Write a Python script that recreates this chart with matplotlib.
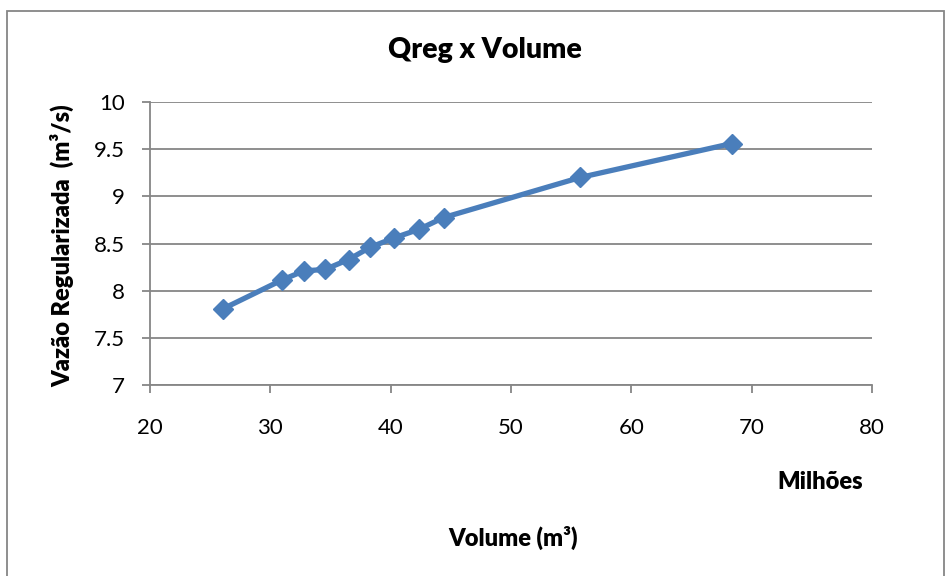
import matplotlib.pyplot as plt
from matplotlib.patches import Rectangle

# Qreg x Volume
volume = [26.1, 31.0, 32.8, 34.55, 36.5, 38.3, 40.3, 42.35, 44.4, 55.75, 68.35]
qreg = [7.81, 8.115, 8.21, 8.225, 8.33, 8.46, 8.56, 8.65, 8.775, 9.20, 9.56]
xticks = [20, 30, 40, 50, 60, 70, 80]
yticks = [7, 7.5, 8, 8.5, 9, 9.5, 10]
ytick_labels = ['7', '7.5', '8', '8.5', '9', '9.5', '10']

W, H = 949, 576
plt.rcParams['font.family'] = ['Lato', 'DejaVu Sans']
grey = '#868686'

fig = plt.figure(figsize=(W / 100, H / 100), dpi=100)
fig.patches.append(Rectangle((7 / W, -0.05), 937 / W, 1.05 - 11 / H,
                             transform=fig.transFigure, fill=False,
                             edgecolor=grey, linewidth=1.3))

ax = fig.add_axes([150 / W, 1 - 385 / H, 722 / W, 283 / H])
ax.plot(volume, qreg, color='#4A7EBB', linewidth=3.8, marker='D',
        markersize=10.5, solid_joinstyle='round', zorder=3)

ax.set_xlim(20, 80)
ax.set_ylim(7, 10)
ax.set_xticks(xticks)
ax.set_yticks(yticks)
ax.set_yticklabels(ytick_labels)
ax.grid(axis='y', color=grey, linewidth=1.3)
ax.set_axisbelow(True)
for s in ['top', 'right']:
    ax.spines[s].set_visible(False)
for s in ['left', 'bottom']:
    ax.spines[s].set_color(grey)
    ax.spines[s].set_linewidth(1.3)
ax.tick_params(colors=grey, labelcolor='black', length=6, width=1.3,
               labelsize=16)
ax.tick_params(axis='x', pad=18)
ax.tick_params(axis='y', pad=12)

fig.text(485 / W, 1 - 50 / H, 'Qreg x Volume', ha='center', va='center',
         fontsize=20.5, fontweight='heavy')
fig.text(820 / W, 1 - 482 / H, 'Milhões', ha='center', va='center',
         fontsize=17, fontweight='heavy')
fig.text(513 / W, 1 - 538 / H, 'Volume (m³)', ha='center', va='center',
         fontsize=17, fontweight='heavy')
fig.text(62 / W, 1 - 246 / H, 'Vazão Regularizada  (m³/s)', ha='center',
         va='center', rotation=90, fontsize=17, fontweight='heavy')

fig.savefig('out.png', dpi=100)
